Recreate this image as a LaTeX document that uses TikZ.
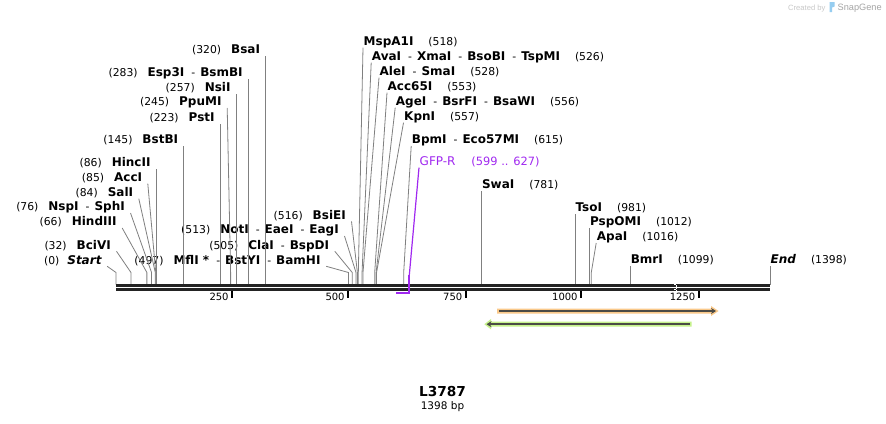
\documentclass[tikz,border=0pt]{standalone}
\usepackage{fontspec}
\setmainfont{DejaVu Sans}
\newfontfamily\logofont{Liberation Sans}
\usetikzlibrary{positioning}
\usetikzlibrary{arrows.meta}
\definecolor{cutgray}{RGB}{128,128,128}
\definecolor{bbcolor}{RGB}{35,35,35}
\definecolor{primerviolet}{RGB}{160,40,240}
\definecolor{orfup}{RGB}{250,201,138}
\definecolor{orfdown}{RGB}{198,242,140}
\definecolor{orfline}{RGB}{75,75,70}
\definecolor{logolight}{RGB}{200,200,200}
\definecolor{logogray}{RGB}{165,165,165}
\definecolor{logoblue}{RGB}{150,205,240}
\newcommand{\enz}[1]{{\fontsize{12}{14}\selectfont\bfseries #1}}
\newcommand{\sepd}{\hspace{7pt}-\hspace{5pt}}
\tikzset{
    every node/.append style={font=\fontsize{10.8}{13}\selectfont},
    leftcut/.style={anchor=south east, inner xsep=5.5pt, inner ysep=2pt, text depth=0pt},
    rightcut/.style={anchor=south west, inner xsep=0.5pt, inner ysep=2pt, text depth=0pt},
    cutline/.style={draw=cutgray, line width=0.8pt},
    backbone/.style={draw=bbcolor, line width=2.3pt, double=white, double distance=1.7pt},
    scaletick/.style={draw=black, line width=2pt},
    ticklab/.style={anchor=base east, inner sep=0pt, font=\fontsize{10}{12}\selectfont},
    primer/.style={draw=primerviolet, line width=1.2pt},
    primerlab/.style={text=primerviolet, font=\fontsize{12}{14}\selectfont},
    orfarrow/.style={draw=orfline, line width=1.6pt, -{Stealth[length=5pt, width=6pt]}},
    maptitle/.style={inner sep=0pt, anchor=base, font=\fontsize{13.7}{16}\selectfont\bfseries},
    sizelab/.style={inner sep=0pt, font=\fontsize{10.5}{12}\selectfont}
}

\begin{document}
\begin{tikzpicture}[x=1pt, y=-1pt]
    \path[fill=white, use as bounding box] (0,0) rectangle (886,423);

    \begin{scope}[shift={(116,284.5)}, x=0.4678pt]
        \coordinate (c0) at (0,0);
        \coordinate (c32) at (32,0);
        \coordinate (c66) at (66,0);
        \coordinate (c76) at (76,0);
        \coordinate (c84) at (84,0);
        \coordinate (c85) at (85,0);
        \coordinate (c86) at (86,0);
        \coordinate (c145) at (145,0);
        \coordinate (c223) at (223,0);
        \coordinate (c245) at (245,0);
        \coordinate (c257) at (257,0);
        \coordinate (c283) at (283,0);
        \coordinate (c320) at (320,0);
        \coordinate (c497) at (497,0);
        \coordinate (c505) at (505,0);
        \coordinate (c513) at (513,0);
        \coordinate (c516) at (516,0);
        \coordinate (c518) at (518,0);
        \coordinate (c526) at (526,0);
        \coordinate (c528) at (528,0);
        \coordinate (c553) at (553,0);
        \coordinate (c556) at (556,0);
        \coordinate (c557) at (557,0);
        \coordinate (c615) at (615,0);
        \coordinate (c781) at (781,0);
        \coordinate (c981) at (981,0);
        \coordinate (c1012) at (1012,0);
        \coordinate (c1016) at (1016,0);
        \coordinate (c1099) at (1099,0);
        \coordinate (c1398) at (1398,0);
        \coordinate (p599) at (599,8.5);
        \coordinate (p627) at (627,8.5);
    \end{scope}

    \node[leftcut] (l0) at (107.2,266.3) {(0)\hspace{8pt}\enz{\itshape Start}};
    \node[leftcut] (l32) at (116.5,251.3) {(32)\hspace{10pt}\enz{BciVI}};
    \node[leftcut] (l66) at (122.2,228) {(66)\hspace{10pt}\enz{HindIII}};
    \node[leftcut] (l76) at (130.5,213) {(76)\hspace{10pt}\enz{NspI}\sepd\enz{SphI}};
    \node[leftcut] (l84) at (138.8,198.7) {(84)\hspace{10pt}\enz{SalI}};
    \node[leftcut] (l85) at (147.8,183.7) {(85)\hspace{10pt}\enz{AccI}};
    \node[leftcut] (l86) at (c86 |- 0,168.7) {(86)\hspace{10pt}\enz{HincII}};
    \node[leftcut] (l145) at (c145 |- 0,146) {(145)\hspace{10pt}\enz{BstBI}};
    \node[leftcut] (l223) at (c223 |- 0,123.7) {(223)\hspace{10pt}\enz{PstI}};
    \node[leftcut] (l245) at (227.2,108) {(245)\hspace{10pt}\enz{PpuMI}};
    \node[leftcut] (l257) at (c257 |- 0,93.7) {(257)\hspace{10pt}\enz{NsiI}};
    \node[leftcut] (l283) at (c283 |- 0,78.7) {(283)\hspace{10pt}\enz{Esp3I}\sepd\enz{BsmBI}};
    \node[leftcut] (l320) at (c320 |- 0,56) {(320)\hspace{10pt}\enz{BsaI}};
    \node[leftcut] (l497) at (326.2,266.3) {(497)\hspace{10pt}\enz{MflI *}\sepd\enz{BstYI}\sepd\enz{BamHI}};
    \node[leftcut] (l505) at (334.8,251.3) {(505)\hspace{10pt}\enz{ClaI}\sepd\enz{BspDI}};
    \node[leftcut] (l513) at (344.5,236) {(513)\hspace{10pt}\enz{NotI}\sepd\enz{EaeI}\sepd\enz{EagI}};
    \node[leftcut] (l516) at (351.5,221.3) {(516)\hspace{10pt}\enz{BsiEI}};

    \node[rightcut] (r518) at (363,47.7) {\enz{MspA1I}\hspace{15pt}(518)};
    \node[rightcut] (r526) at (371.2,62.7) {\enz{AvaI}\sepd\enz{XmaI}\sepd\enz{BsoBI}\sepd\enz{TspMI}\hspace{15pt}(526)};
    \node[rightcut] (r528) at (379,77.7) {\enz{AleI}\sepd\enz{SmaI}\hspace{15pt}(528)};
    \node[rightcut] (r553) at (387,92.7) {\enz{Acc65I}\hspace{15pt}(553)};
    \node[rightcut] (r556) at (395.2,107.7) {\enz{AgeI}\sepd\enz{BsrFI}\sepd\enz{BsaWI}\hspace{15pt}(556)};
    \node[rightcut] (r557) at (403.5,122.7) {\enz{KpnI}\hspace{15pt}(557)};
    \node[rightcut] (r615) at (411.2,146) {\enz{BpmI}\sepd\enz{Eco57MI}\hspace{15pt}(615)};
    \node[rightcut] (r781) at (c781 |- 0,191) {\enz{SwaI}\hspace{15pt}(781)};
    \node[rightcut] (r981) at (c981 |- 0,213.7) {\enz{TsoI}\hspace{15pt}(981)};
    \node[rightcut] (r1012) at (c1012 |- 0,227.7) {\enz{PspOMI}\hspace{15pt}(1012)};
    \node[rightcut] (r1016) at (596.2,243) {\enz{ApaI}\hspace{15pt}(1016)};
    \node[rightcut] (r1099) at (c1099 |- 0,266) {\enz{BmrI}\hspace{15pt}(1099)};
    \node[rightcut] (r1398) at (c1398 |- 0,266) {\enz{\itshape End}\hspace{15pt}(1398)};

    \node[rightcut, primerlab] (gfp) at (419,167.7) {GFP-R};
    \node[text=primerviolet, inner sep=0pt, font=\fontsize{11.4}{13}\selectfont, base right=15pt of gfp] (gfpnum) {(599 .. 627)};

    \draw[cutline] (c0) -- ++(0,-12) -- (l0.south east);
    \draw[cutline] (c32) -- ++(0,-12) -- (l32.south east);
    \draw[cutline] (c66) -- ++(0,-12) -- (l66.south east);
    \draw[cutline] (c76) -- ++(0,-12) -- (l76.south east);
    \draw[cutline] (c84) -- ++(0,-12) -- (l84.south east);
    \draw[cutline] (c85) -- ++(0,-12) -- (l85.south east);
    \draw[cutline] (c86) -- (l86.south east);
    \draw[cutline] (c145) -- (l145.south east);
    \draw[cutline] (c223) -- (l223.south east);
    \draw[cutline] (c245) -- ++(0,-12) -- (l245.south east);
    \draw[cutline] (c257) -- (l257.south east);
    \draw[cutline] (c283) -- (l283.south east);
    \draw[cutline] (c320) -- (l320.south east);
    \draw[cutline] (c497) -- ++(0,-12) -- (l497.south east);
    \draw[cutline] (c505) -- ++(0,-12) -- (l505.south east);
    \draw[cutline] (c513) -- ++(0,-12) -- (l513.south east);
    \draw[cutline] (c516) -- ++(0,-12) -- (l516.south east);
    \draw[cutline] (c518) -- ++(0,-12) -- (r518.south west);
    \draw[cutline] (c526) -- ++(0,-12) -- (r526.south west);
    \draw[cutline] (c528) -- ++(0,-12) -- (r528.south west);
    \draw[cutline] (c553) -- ++(0,-12) -- (r553.south west);
    \draw[cutline] (c556) -- ++(0,-12) -- (r556.south west);
    \draw[cutline] (c557) -- ++(0,-12) -- (r557.south west);
    \draw[cutline] (c615) -- ++(0,-12) -- (r615.south west);
    \draw[cutline] (c781) -- (r781.south west);
    \draw[cutline] (c981) -- (r981.south west);
    \draw[cutline] (c1012) -- (r1012.south west);
    \draw[cutline] (c1016) -- ++(0,-12) -- (r1016.south west);
    \draw[cutline] (c1099) -- (r1099.south west);
    \draw[cutline] (c1398) -- (r1398.south west);

    \draw[backbone] (116,287.5) -- (770,287.5);
    \draw[white, line width=1.1pt, dash pattern=on 1.1pt off 1.1pt] (675,284.3) -- (675,290.7);
    \draw[white, line width=1.1pt, dash pattern=on 1.1pt off 1.1pt, dash phase=1.1pt] (676.1,284.3) -- (676.1,290.7);

    \draw[scaletick] (232.3,290.7) -- (232.3,297.5);
    \draw[scaletick] (348.3,290.7) -- (348.3,297.5);
    \draw[scaletick] (466,290.7) -- (466,297.5);
    \draw[scaletick] (581.3,290.7) -- (581.3,297.5);
    \draw[scaletick] (699,290.7) -- (699,297.5);
    \node[ticklab] (t250) at (228.8,300.7) {250};
    \node[ticklab] (t500) at (344.8,300.7) {500};
    \node[ticklab] (t750) at (462.5,300.7) {750};
    \node[ticklab] (t1000) at (577.8,300.7) {1000};
    \node[ticklab] (t1250) at (695.5,300.7) {1250};

    \draw[primer] (gfp.south west) -- (p627 |- 0,275);
    \draw[primer, line width=2pt] (p627 |- 0,275) -- (p627) -- (p599);

    \fill[orfup] (497,308.5) -- (711,308.5) -- (711,306) -- (718.5,311) -- (711,316) -- (711,313.5) -- (497,313.5) -- cycle;
    \fill[orfdown] (691.7,321.7) -- (491,321.7) -- (491,319) -- (484.3,324.2) -- (491,329.4) -- (491,326.7) -- (691.7,326.7) -- cycle;
    \draw[orfarrow] (499,311) -- (716,311);
    \draw[orfarrow] (690,324.2) -- (486.5,324.2);

    \node[maptitle] (title) at (442.5,396.7) {L3787};
    \node[sizelab, below=4.3pt of title] (size) {1398 bp};

    \node[anchor=base west, inner sep=0pt, text=logolight, font=\logofont\fontsize{7.6}{9}\selectfont] (created) at (788,10.7) {Created by};
    \fill[logoblue] (829.5,2) -- (834.5,2) -- (834.5,6.5) -- (832,7.5) -- (832,12) -- (829.5,12) -- cycle;
    \node[anchor=base west, inner sep=0pt, text=logogray, font=\logofont\fontsize{9.2}{11}\selectfont] (snapgene) at (837.5,10) {SnapGene};
\end{tikzpicture}
\end{document}
